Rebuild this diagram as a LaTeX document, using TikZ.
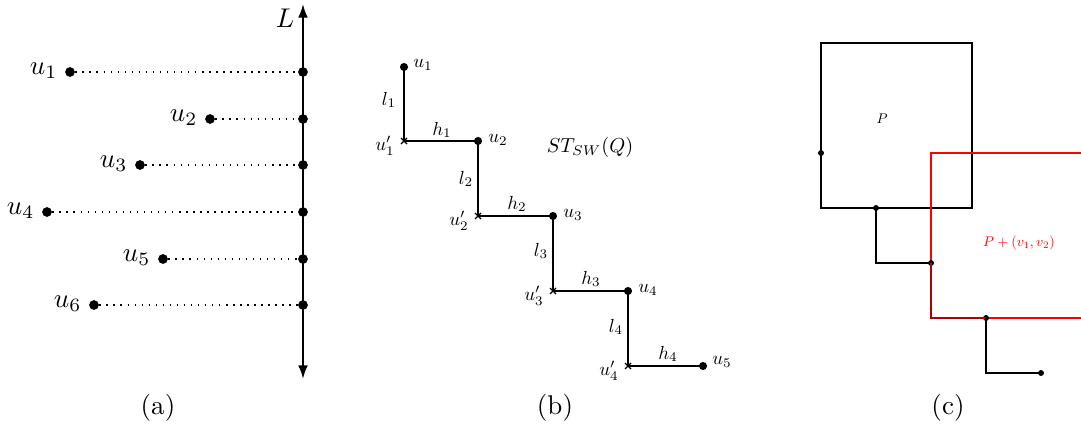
\documentclass[tikz,border=0pt]{standalone}
\usetikzlibrary{arrows.meta}
\begin{document}
\begin{tikzpicture}[x=0.37pt,y=-0.37pt,
  dotA/.style={circle,fill=black,inner sep=0pt,minimum size=3.6pt},
  dotB/.style={circle,fill=black,inner sep=0pt,minimum size=3.0pt},
  dotC/.style={circle,fill=black,inner sep=0pt,minimum size=2.2pt},
  crs/.style={inner sep=0pt,minimum size=0pt},
  lblA/.style={inner sep=0pt},
  lblB/.style={inner sep=0pt,scale=0.7},
  lblC/.style={inner sep=0pt,scale=0.52},
  proj/.style={dotted,line width=0.6pt},
  stair/.style={line width=0.55pt},
  thinline/.style={line width=0.4pt}]
\useasboundingbox (0,0) rectangle (1081,426);

% ---------- (a) ----------
\coordinate (Ltop) at (303,4);
\coordinate (Lbot) at (303,379);
\draw[line width=0.75pt,{Latex[length=5pt,width=3.6pt]}-{Latex[length=5pt,width=3.6pt]}] (Lbot) -- (Ltop);
\node[lblA] (Llab) at (285,18) {$L$};
\foreach \i/\x/\y in {1/70/72,2/210/119,3/140/165,4/47/212,5/163/259,6/94/305}{
  \node[dotA] (p\i) at (\x,\y) {};
  \node[dotA] (q\i) at (303,\y) {};
  \draw[proj] (p\i) -- (q\i);
  \node[lblA,anchor=east] (pl\i) at (\x-12,\y-1) {$u_{\i}$};
}
\node[lblA] (capa) at (158,408) {(a)};

% ---------- (b) ----------
\node[dotB] (b1) at (404,67) {};
\coordinate (c1) at (404,141);
\node[dotB] (b2) at (478,141) {};
\coordinate (c2) at (478,216);
\node[dotB] (b3) at (553,216) {};
\coordinate (c3) at (553,291);
\node[dotB] (b4) at (628,291) {};
\coordinate (c4) at (628,366);
\node[dotB] (b5) at (703,366) {};
\draw[stair] (b1.center) -- (c1) -- (b2.center) -- (c2) -- (b3.center) -- (c3) -- (b4.center) -- (c4) -- (b5.center);
\foreach \c in {c1,c2,c3,c4}{
  \draw[line width=0.45pt] ([shift={(-3,-3)}]\c) -- ([shift={(3,3)}]\c)
    ([shift={(-3,3)}]\c) -- ([shift={(3,-3)}]\c);
}
\node[lblB,anchor=west] (bl1) at (413,65) {$u_1$};
\node[lblB,anchor=west] (bl2) at (488,140) {$u_2$};
\node[lblB,anchor=west] (bl3) at (563,215) {$u_3$};
\node[lblB,anchor=west] (bl4) at (638,290) {$u_4$};
\node[lblB,anchor=west] (bl5) at (712,362) {$u_5$};
\node[lblB,anchor=east] (cl1) at (395,146) {$u'_1$};
\node[lblB,anchor=east] (cl2) at (469,221) {$u'_2$};
\node[lblB,anchor=east] (cl3) at (544,296) {$u'_3$};
\node[lblB,anchor=east] (cl4) at (619,371) {$u'_4$};
\node[lblB] (l1) at (389,100) {$l_1$};
\node[lblB] (l2) at (466,179) {$l_2$};
\node[lblB] (l3) at (541,251) {$l_3$};
\node[lblB] (l4) at (616,327) {$l_4$};
\node[lblB] (h1) at (442,130) {$h_1$};
\node[lblB] (h2) at (517,204) {$h_2$};
\node[lblB] (h3) at (591,279) {$h_3$};
\node[lblB] (h4) at (668,354) {$h_4$};
\node[inner sep=0pt,scale=0.75] (st) at (590,147) {$ST_{SW}(Q)$};
\node[lblA] (capb) at (555,408) {(b)};

% ---------- (c) ----------
\draw[thinline] (821,43) rectangle (972,208);
\node[lblC] (Plab) at (882,119) {$P$};
\draw[thinline,red] (1081,153) -- (931,153) -- (931,318) -- (1081,318);
\node[lblC,text=red] (Pv) at (1019,243) {$P+(v_1,v_2)$};
\node[dotC] (d1) at (821,153) {};
\node[dotC] (d2) at (876,208) {};
\node[dotC] (d3) at (931,263) {};
\node[dotC] (d4) at (986,318) {};
\node[dotC] (d5) at (1041,373) {};
\draw[line width=0.5pt] (d1.center) -- (821,208) -- (d2.center) -- (876,263) -- (d3.center);
\draw[line width=0.5pt,red!70!black] (d3.center) -- (931,318) -- (d4.center);
\draw[line width=0.5pt] (d4.center) -- (986,373) -- (d5.center);
\node[lblA] (capc) at (948,408) {(c)};
\end{tikzpicture}
\end{document}
